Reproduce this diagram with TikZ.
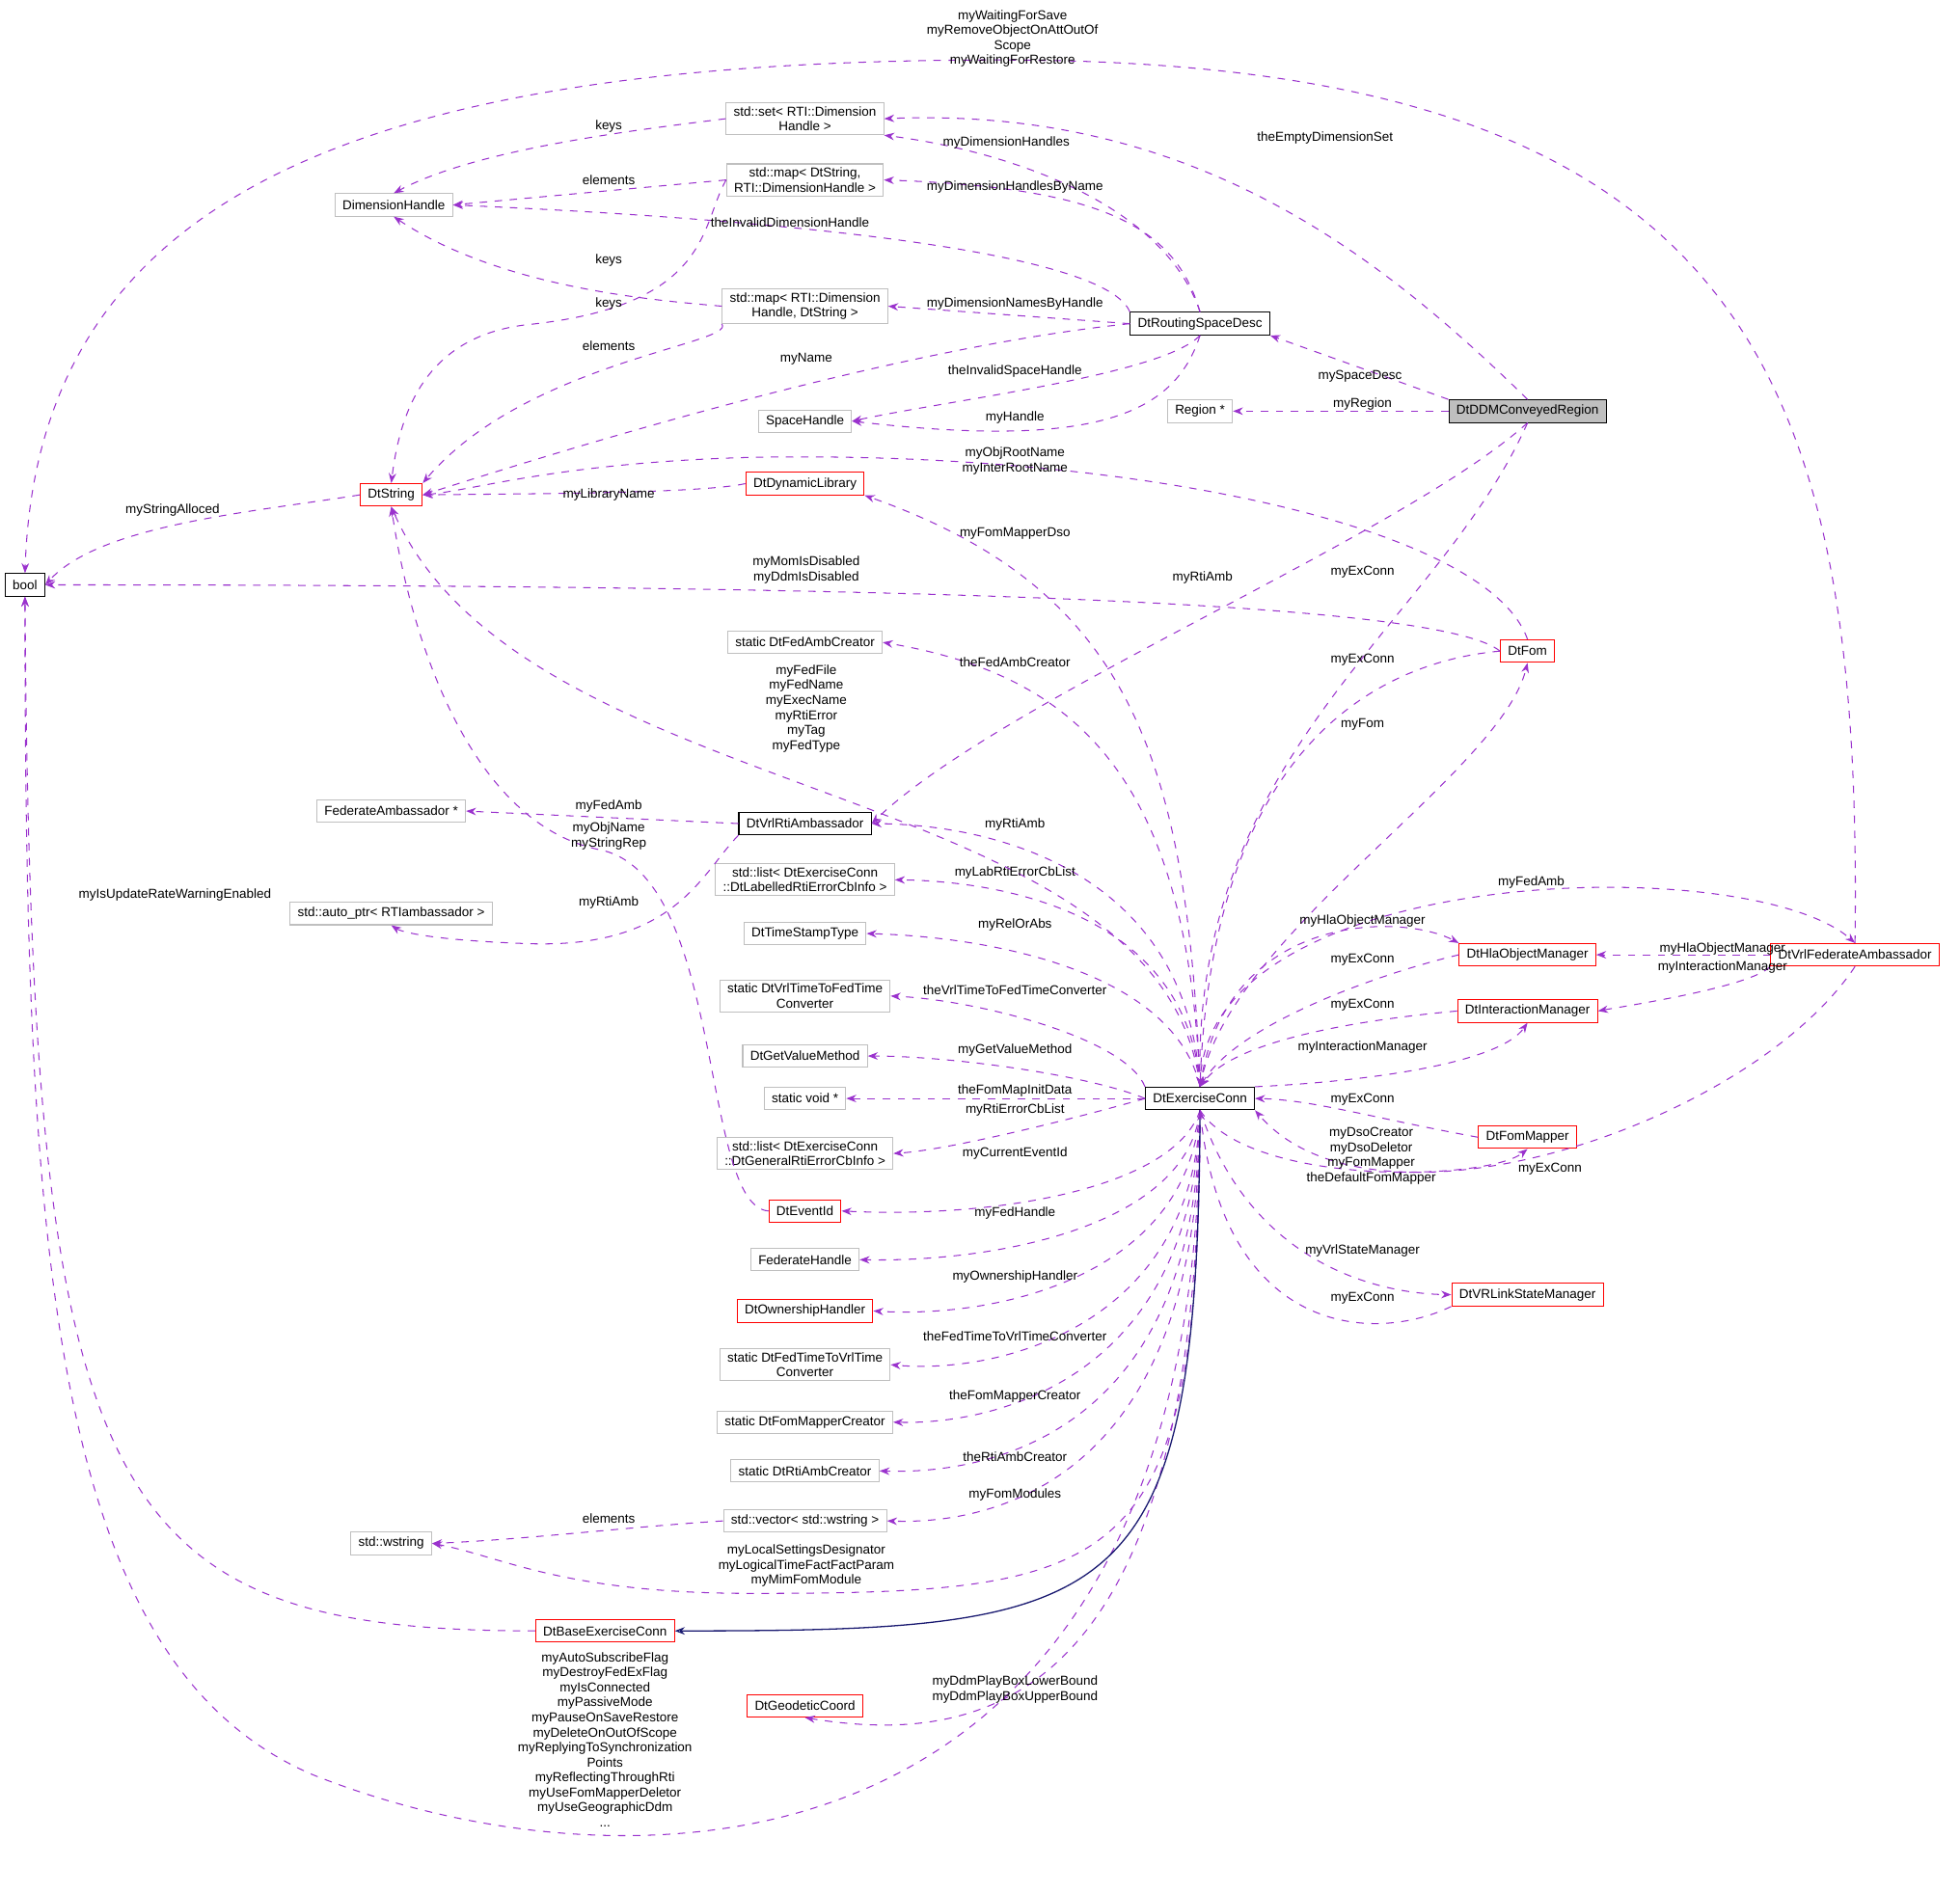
\documentclass[tikz,border=0pt]{standalone}
\usepackage{fontspec}
\setmainfont{Liberation Sans}
\usetikzlibrary{arrows.meta}
\definecolor{dep}{HTML}{9A32CD}
\definecolor{inh}{HTML}{191970}
\definecolor{gb}{HTML}{BFBFBF}
\begin{document}
\begin{tikzpicture}[x=0.5pt,y=-0.5pt,
  every node/.style={font=\fontsize{5.2}{6}\selectfont},
  box/.style={draw,line width=0.4pt,minimum height=9pt,inner xsep=3pt,inner ysep=1.5pt,align=center,fill=white},
  cls/.style={box,draw=black},
  red/.style={box,draw=red},
  gry/.style={box,draw=gb},
  d/.style={draw=dep,dashed,line width=0.4pt,-{Stealth[length=4pt,width=3pt]}},
  inh/.style={draw=inh,line width=0.5pt,-{Stealth[length=4pt,width=3pt,open,fill=white]}},
  lb/.style={align=center,inner sep=0pt}]
\useasboundingbox (0,0) rectangle (1568,1514);
% nodes
\node[cls] (bool) at (20,468) {bool};
\node[red] (ds) at (313,396) {DtString};
\node[gry] (dh) at (315,164) {DimensionHandle};
\node[gry] (set) at (644,95) {std::set< RTI::Dimension\\Handle >};
\node[gry] (m1) at (644,144) {std::map< DtString,\\ RTI::DimensionHandle >};
\node[gry] (m2) at (644,245) {std::map< RTI::Dimension\\Handle, DtString >};
\node[gry] (sh) at (644,337) {SpaceHandle};
\node[cls] (rsd) at (960,259) {DtRoutingSpaceDesc};
\node[gry] (reg) at (960,329) {Region *};
\node[cls,fill=gb] (ddm) at (1222,329) {DtDDMConveyedRegion};
\node[red] (dl) at (644,387) {DtDynamicLibrary};
\node[gry] (fac) at (644,514) {static DtFedAmbCreator};
\node[red] (fom) at (1222,521) {DtFom};
\node[gry] (fa) at (313,649) {FederateAmbassador *};
\node[cls] (rtia) at (644,659) {DtVrlRtiAmbassador};
\node[gry] (ap) at (313,731) {std::auto\_ptr< RTIambassador >};
\node[gry] (l1) at (644,704) {std::list< DtExerciseConn\\::DtLabelledRtiErrorCbInfo >};
\node[gry] (tst) at (644,747) {DtTimeStampType};
\node[gry] (v2f) at (644,797) {static DtVrlTimeToFedTime\\Converter};
\node[gry] (gvm) at (644,845) {DtGetValueMethod};
\node[gry] (sv) at (644,879) {static void *};
\node[gry] (l2) at (644,923) {std::list< DtExerciseConn\\::DtGeneralRtiErrorCbInfo >};
\node[red] (ei) at (644,969) {DtEventId};
\node[gry] (fh) at (644,1008) {FederateHandle};
\node[red] (oh) at (644,1049) {DtOwnershipHandler};
\node[gry] (f2v) at (644,1092) {static DtFedTimeToVrlTime\\Converter};
\node[gry] (fmc) at (644,1138) {static DtFomMapperCreator};
\node[gry] (rac) at (644,1177) {static DtRtiAmbCreator};
\node[gry] (vec) at (644,1217) {std::vector< std::wstring >};
\node[gry] (ws) at (313,1235) {std::wstring};
\node[red] (bec) at (484,1305) {DtBaseExerciseConn};
\node[red] (gc) at (644,1365) {DtGeodeticCoord};
\node[cls] (ec) at (960,879) {DtExerciseConn};
\node[red] (hom) at (1222,764) {DtHlaObjectManager};
\node[red] (im) at (1222,809) {DtInteractionManager};
\node[red] (fm) at (1222,910) {DtFomMapper};
\node[red] (vsm) at (1222,1036) {DtVRLinkStateManager};
\node[red] (vfa) at (1484,764) {DtVrlFederateAmbassador};
% edges
\path[d] (vfa.north) .. controls (1490,300) and (1400,48) .. (800,48) .. controls (300,48) and (30,150) .. (bool.north);
\path[d] (ddm.north) .. controls (1100,200) and (950,85) .. (set.east);
\path[d] (ddm.north west) -- (rsd.south east);
\path[d] (ddm.west) -- (reg.east);
\path[d] (ddm.south) .. controls (1120,430) and (800,560) .. (rtia.east);
\path[d] (ddm.south) .. controls (1150,500) and (955,600) .. (ec.north);
\path[d] (set.west) .. controls (500,105) and (380,120) .. (dh.north);
\path[d] (m1.west) -- (dh.east);
\path[d] (m1.west) .. controls (560,180) and (570,245) .. (420,260) .. controls (340,270) and (320,330) .. (ds.north);
\path[d] (m2.west) .. controls (520,240) and (400,230) .. (dh.south);
\path[d] (m2.south west) .. controls (590,275) and (420,290) .. (ds.north east);
\path[d] (rsd.north) .. controls (930,160) and (800,120) .. (set.south east);
\path[d] (rsd.north) .. controls (940,180) and (880,150) .. (m1.east);
\path[d] (rsd.north west) .. controls (880,190) and (500,170) .. (dh.east);
\path[d] (rsd.west) -- (m2.east);
\path[d] (rsd.west) .. controls (700,280) and (420,370) .. (ds.east);
\path[d] (rsd.south) .. controls (930,300) and (760,320) .. (sh.east);
\path[d] (rsd.south) .. controls (940,330) and (880,360) .. (sh.east);
\path[d] (ds.west) .. controls (200,410) and (80,420) .. (bool.east);
\path[d] (dl.west) .. controls (560,395) and (420,395) .. (ds.east);
\path[d] (fom.north) .. controls (1190,420) and (900,360) .. (600,366) .. controls (450,370) and (380,392) .. (ds.east);
\path[d] (fom.west) .. controls (1150,480) and (700,468) .. (bool.east);
\path[d] (fom.west) .. controls (1100,530) and (970,600) .. (ec.north);
\path[d] (ec.north) .. controls (980,750) and (1200,620) .. (fom.south);
\path[d] (ec.north) .. controls (950,600) and (900,470) .. (dl.south east);
\path[d] (ec.north) .. controls (950,620) and (860,540) .. (fac.east);
\path[d] (ec.north) .. controls (930,620) and (420,650) .. (ds.south);
\path[d] (ec.north) .. controls (950,700) and (800,660) .. (rtia.east);
\path[d] (ec.north) .. controls (950,730) and (800,705) .. (l1.east);
\path[d] (ec.north) .. controls (940,780) and (800,750) .. (tst.east);
\path[d] (ec.north west) .. controls (900,830) and (780,800) .. (v2f.east);
\path[d] (ec.west) .. controls (870,860) and (760,845) .. (gvm.east);
\path[d] (ec.west) -- (sv.east);
\path[d] (ec.west) .. controls (860,895) and (760,920) .. (l2.east);
\path[d] (ec.south) .. controls (940,950) and (800,975) .. (ei.east);
\path[d] (ec.south) .. controls (950,980) and (800,1010) .. (fh.east);
\path[d] (ec.south) .. controls (950,1020) and (800,1055) .. (oh.east);
\path[d] (ec.south) .. controls (955,1060) and (800,1100) .. (f2v.east);
\path[d] (ec.south) .. controls (955,1100) and (800,1140) .. (fmc.east);
\path[d] (ec.south) .. controls (958,1140) and (800,1180) .. (rac.east);
\path[d] (ec.south) .. controls (960,1180) and (800,1220) .. (vec.east);
\path[d] (ec.south) .. controls (960,1260) and (900,1275) .. (600,1275) .. controls (450,1275) and (400,1245) .. (ws.east);
\path[d] (ec.south) .. controls (960,1350) and (800,1400) .. (gc.south);
\path[d] (ec.south) .. controls (960,1520) and (500,1520) .. (250,1420) .. controls (40,1330) and (20,1000) .. (bool.south);
\path[inh] (ec.south) .. controls (958,1290) and (900,1305) .. (bec.east);
\path[d] (bec.west) .. controls (80,1305) and (25,1200) .. (bool.south);
\path[d] (vec.west) .. controls (500,1222) and (420,1232) .. (ws.east);
\path[d] (ei.west) .. controls (560,965) and (580,700) .. (480,680) .. controls (380,660) and (330,520) .. (ds.south);
\path[d] (rtia.west) -- (fa.east);
\path[d] (rtia.south west) .. controls (560,700) and (540,760) .. (420,755) .. controls (340,752) and (320,745) .. (ap.south);
\path[d] (ec.north) .. controls (960,690) and (1400,680) .. (vfa.north);
\path[d] (ec.north) .. controls (980,730) and (1120,730) .. (hom.north west);
\path[d] (hom.west) .. controls (1100,780) and (990,820) .. (ec.north);
\path[d] (im.west) .. controls (1100,815) and (990,830) .. (ec.north);
\path[d] (ec.north east) .. controls (1100,865) and (1200,850) .. (im.south);
\path[d] (fm.west) .. controls (1100,895) and (1050,880) .. (ec.east);
\path[d] (ec.south) .. controls (1000,950) and (1190,945) .. (fm.south);
\path[d] (ec.south) .. controls (1000,1010) and (1100,1035) .. (vsm.west);
\path[d] (vsm.south west) .. controls (1100,1075) and (980,1070) .. (ec.south);
\path[d] (vfa.south) .. controls (1400,900) and (1100,1000) .. (ec.south east);
\path[d] (vfa.west) -- (hom.east);
\path[d] (vfa.south west) .. controls (1400,790) and (1300,805) .. (im.east);
% labels
\node[lb] at (810,31) {myWaitingForSave\\myRemoveObjectOnAttOutOf\\Scope\\myWaitingForRestore};
\node[lb] at (1060,110) {theEmptyDimensionSet};
\node[lb] at (487,101) {keys};
\node[lb] at (487,144) {elements};
\node[lb] at (487,208) {keys};
\node[lb] at (487,243) {keys};
\node[lb] at (487,277) {elements};
\node[lb] at (805,114) {myDimensionHandles};
\node[lb] at (812,150) {myDimensionHandlesByName};
\node[lb] at (632,178) {theInvalidDimensionHandle};
\node[lb] at (812,243) {myDimensionNamesByHandle};
\node[lb] at (645,287) {myName};
\node[lb] at (812,297) {theInvalidSpaceHandle};
\node[lb] at (812,334) {myHandle};
\node[lb] at (1088,301) {mySpaceDesc};
\node[lb] at (1090,323) {myRegion};
\node[lb] at (812,369) {myObjRootName\\myInterRootName};
\node[lb] at (138,408) {myStringAlloced};
\node[lb] at (487,396) {myLibraryName};
\node[lb] at (812,427) {myFomMapperDso};
\node[lb] at (645,456) {myMomIsDisabled\\myDdmIsDisabled};
\node[lb] at (962,462) {myRtiAmb};
\node[lb] at (1090,458) {myExConn};
\node[lb] at (812,530) {theFedAmbCreator};
\node[lb] at (1090,528) {myExConn};
\node[lb] at (645,567) {myFedFile\\myFedName\\myExecName\\myRtiError\\myTag\\myFedType};
\node[lb] at (1090,580) {myFom};
\node[lb] at (487,645) {myFedAmb};
\node[lb] at (487,669) {myObjName\\myStringRep};
\node[lb] at (812,660) {myRtiAmb};
\node[lb] at (812,698) {myLabRtiErrorCbList};
\node[lb] at (140,716) {myIsUpdateRateWarningEnabled};
\node[lb] at (487,722) {myRtiAmb};
\node[lb] at (1225,706) {myFedAmb};
\node[lb] at (1090,737) {myHlaObjectManager};
\node[lb] at (812,740) {myRelOrAbs};
\node[lb] at (1090,768) {myExConn};
\node[lb] at (1378,759) {myHlaObjectManager};
\node[lb] at (1378,774) {myInteractionManager};
\node[lb] at (812,792) {theVrlTimeToFedTimeConverter};
\node[lb] at (1090,804) {myExConn};
\node[lb] at (1090,838) {myInteractionManager};
\node[lb] at (812,840) {myGetValueMethod};
\node[lb] at (812,873) {theFomMapInitData};
\node[lb] at (812,888) {myRtiErrorCbList};
\node[lb] at (1090,880) {myExConn};
\node[lb] at (1097,925) {myDsoCreator\\myDsoDeletor\\myFomMapper\\theDefaultFomMapper};
\node[lb] at (1240,935) {myExConn};
\node[lb] at (812,923) {myCurrentEventId};
\node[lb] at (812,971) {myFedHandle};
\node[lb] at (1090,1001) {myVrlStateManager};
\node[lb] at (812,1022) {myOwnershipHandler};
\node[lb] at (1090,1039) {myExConn};
\node[lb] at (812,1069) {theFedTimeToVrlTimeConverter};
\node[lb] at (812,1117) {theFomMapperCreator};
\node[lb] at (812,1166) {theRtiAmbCreator};
\node[lb] at (812,1196) {myFomModules};
\node[lb] at (487,1215) {elements};
\node[lb] at (645,1253) {myLocalSettingsDesignator\\myLogicalTimeFactFactParam\\myMimFomModule};
\node[lb] at (812,1352) {myDdmPlayBoxLowerBound\\myDdmPlayBoxUpperBound};
\node[lb] at (484,1392) {myAutoSubscribeFlag\\myDestroyFedExFlag\\myIsConnected\\myPassiveMode\\myPauseOnSaveRestore\\myDeleteOnOutOfScope\\myReplyingToSynchronization\\Points\\myReflectingThroughRti\\myUseFomMapperDeletor\\myUseGeographicDdm\\...};
\end{tikzpicture}
\end{document}
